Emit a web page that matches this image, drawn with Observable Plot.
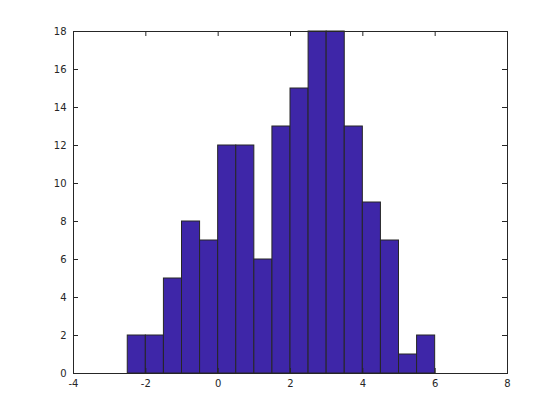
<!DOCTYPE html>
<html><head><meta charset="utf-8">
<script src="https://cdn.jsdelivr.net/npm/d3@7"></script>
<script src="https://cdn.jsdelivr.net/npm/@observablehq/plot@0.6"></script>
<style>body{margin:0;background:#fff}</style>
</head><body><div id="chart"></div>
<script>
const binStarts = [-2.5,-2,-1.5,-1,-0.5,0,0.5,1,1.5,2,2.5,3,3.5,4,4.5,5,5.5];
const counts    = [2,2,5,8,7,12,12,6,13,15,18,18,13,9,7,1,2];
const binWidth = 0.5;
const xTicks = [-4,-2,0,2,4,6,8];
const yTicks = [0,2,4,6,8,10,12,14,16,18];

const bins = binStarts.map((s,i)=>({x1:s, x2:s+binWidth, y:counts[i]}));
const W=560,H=420,mL=73,mR=53,mT=31,mB=47;
const tl=5;
const plot = Plot.plot({
  width:W, height:H, marginLeft:mL, marginRight:mR, marginTop:mT, marginBottom:mB,
  style:{fontFamily:"DejaVu Sans", fontSize:"10px", color:"#262626", background:"#fff"},
  x:{domain:[-4,8], ticks:xTicks, tickSize:0, tickPadding:6, label:null, tickFormat:d=>String(d)},
  y:{domain:[0,18], ticks:yTicks, tickSize:0, tickPadding:7, label:null, tickFormat:d=>String(d)},
  marks:[
    Plot.rectY(bins,{x1:"x1",x2:"x2",y:"y",fill:"#3e26a8",stroke:"#262626",strokeWidth:1,inset:0}),
    Plot.tickX(xTicks,{x:d=>d, insetTop:H-mT-mB-tl, stroke:"#262626"}),
    Plot.tickX(xTicks,{x:d=>d, insetBottom:H-mT-mB-tl, stroke:"#262626"}),
    Plot.tickY(yTicks,{y:d=>d, insetRight:W-mL-mR-tl, stroke:"#262626"}),
    Plot.tickY(yTicks,{y:d=>d, insetLeft:W-mL-mR-tl, stroke:"#262626"}),
    Plot.frame({stroke:"#262626", strokeWidth:1})
  ]
});
document.getElementById("chart").appendChild(plot);
</script></body></html>
